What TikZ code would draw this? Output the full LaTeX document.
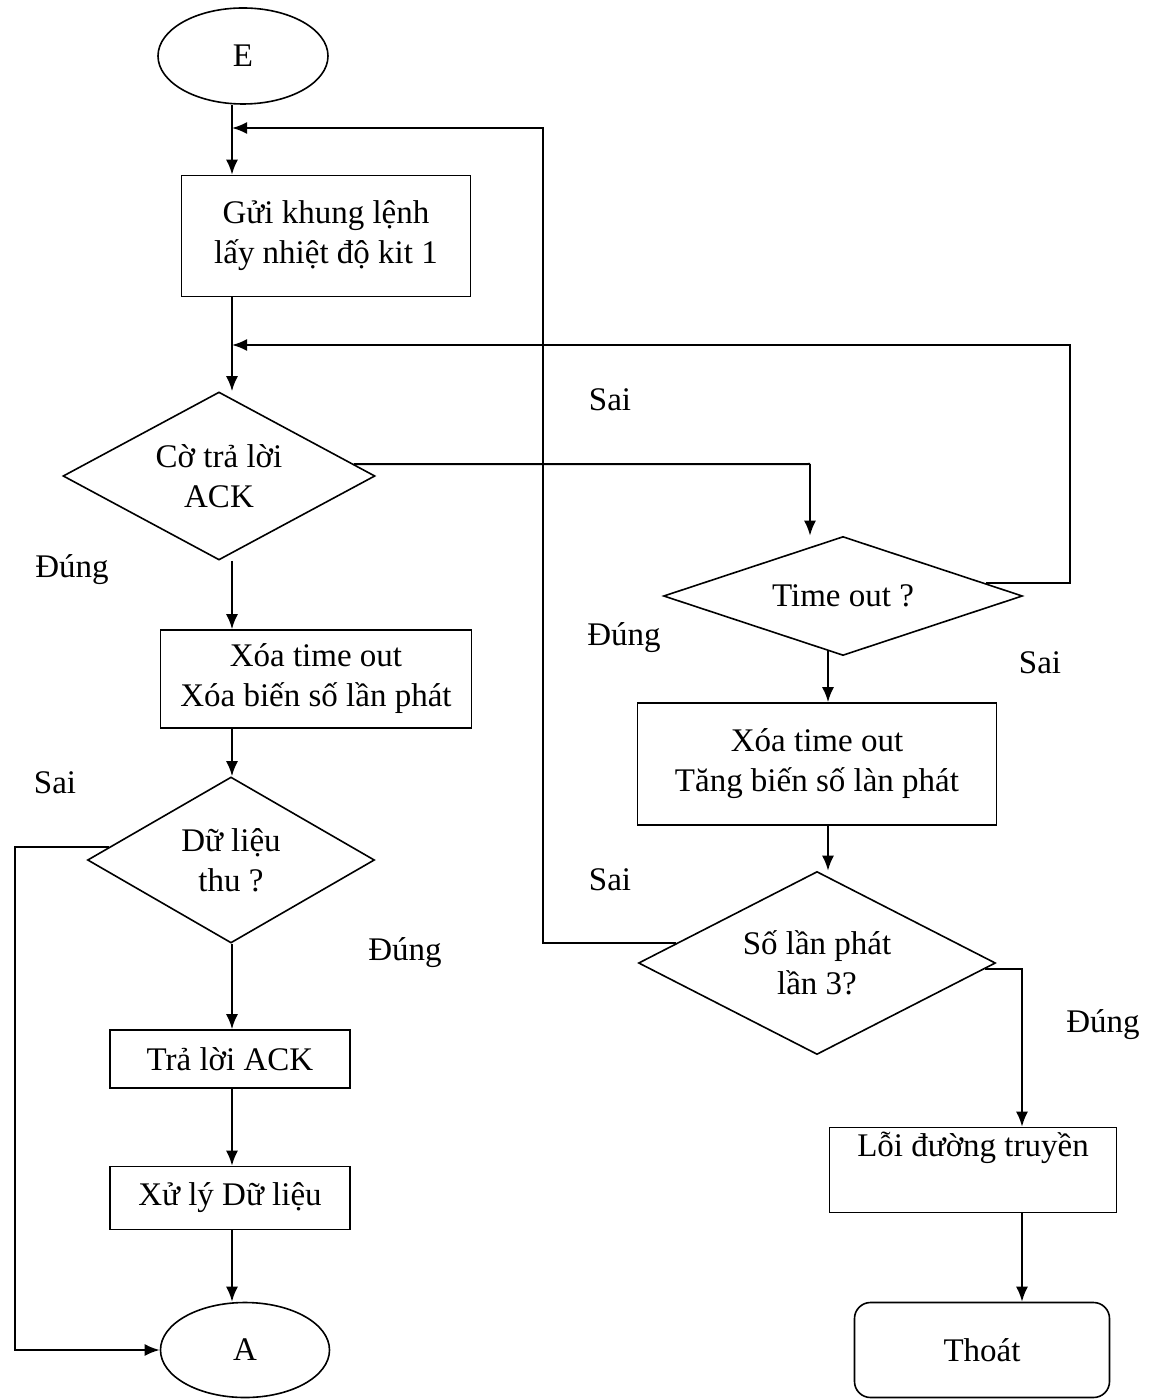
\documentclass[tikz,border=0pt]{standalone}
\usepackage{fontspec}
\setmainfont{Liberation Serif}
\usepackage{tikz}
\usetikzlibrary{shapes.geometric,arrows.meta}
\tikzset{box/.style={draw, rectangle, align=center, inner sep=0pt, line width=0.8pt}}
\tikzset{dec/.style={draw, diamond, aspect=2, align=center, inner sep=0pt, line width=0.8pt}}
\tikzset{term/.style={draw, ellipse, inner sep=0pt, line width=0.8pt}}
\tikzset{lbl/.style={inner sep=0pt}}

\begin{document}
\begin{tikzpicture}[x=0.5pt,y=-0.5pt,line width=1pt,>={Latex[length=7.5pt,width=6pt]},
	every node/.style={font=\fontsize{16.5}{20}\selectfont}]

	\useasboundingbox (0,0) rectangle (1161,1400);
%	\draw[style=help lines, step=50] (0,0) grid (1161,1400);

	% cot trai
	\node[term, minimum width=85pt, minimum height=48pt] (E) at (243,56) {E};
	\node[box, minimum width=144.5pt, minimum height=60.5pt] (gui) at (326,236) {Gửi khung lệnh\\lấy nhiệt độ kit 1};
	\node[dec, minimum width=156pt, minimum height=84pt] (ack) at (219,476) {Cờ trả lời\\ACK};
	\node[box, minimum width=155.5pt, minimum height=49pt] (xoa1) at (316,679) {Xóa time out\\Xóa biến số lần phát};
	\node[dec, minimum width=143.5pt, minimum height=83pt] (du) at (231,860) {Dữ liệu\\thu ?};
	\node[box, minimum width=120pt, minimum height=29pt] (tra) at (230,1059) {Trả lời ACK};
	\node[box, minimum width=120pt, minimum height=31.5pt] (xuly) at (230,1198) {Xử lý Dữ liệu};
	\node[term, minimum width=84.5pt, minimum height=47.5pt] (A) at (245,1350) {A};

	% cot phai
	\node[dec, aspect=3, minimum width=179.5pt, minimum height=59.5pt] (to) at (843,596) {Time out ?};
	\node[box, minimum width=179.5pt, minimum height=61pt] (xoa2) at (817,764) {Xóa time out\\Tăng biến số làn phát};
	\node[dec, minimum width=178.5pt, minimum height=91.5pt] (so) at (817,963) {Số lần phát\\lần 3?};
	\node[box, minimum width=143.5pt, minimum height=42.5pt, text height=12pt, text depth=26pt] (loi) at (973,1170) {Lỗi đường truyền};
	\node[box, rounded corners=8pt, minimum width=127.5pt, minimum height=47.5pt] (thoat) at (982,1350) {Thoát};

	% nhan
	\node[lbl] (s1) at (610,400) {Sai};
	\node[lbl] (d1) at (72,570) {Đúng};
	\node[lbl] (d2) at (624,638) {Đúng};
	\node[lbl] (s2) at (1040,663) {Sai};
	\node[lbl] (s3) at (55,783) {Sai};
	\node[lbl] (d3) at (405,953) {Đúng};
	\node[lbl] (s4) at (610,880) {Sai};
	\node[lbl] (d4) at (1103,1025) {Đúng};

	\coordinate (j1) at (232,128);
	\coordinate (j2) at (232,345);
	\coordinate (ret) at (543,128);
	\coordinate (lp) at (1070,345);
	\coordinate (tin) at (810,464);
	\coordinate (lft) at (15,1350);
	\coordinate (rr) at (1022,1250);
	\coordinate (t1) at ([xshift=-7.5pt,yshift=2.5pt]to.south);

	\draw[->] (E.south -| j1) -- (gui.north -| j1);
	\draw[->] (so.172) -| (ret) -- (j1);
	\draw[->] (gui.south -| j2) -- (ack.north -| j2);
	\draw[->] (to.5) -| (lp) -- (j2);
	\draw (ack.5) -- (tin);
	\draw[->] (tin) -- (tin |- to.north);
	\draw[->] (ack.south -| j2) -- (xoa1.north -| j2);
	\draw[->] (xoa1.south -| j2) -- (du.north -| j2);
	\draw[->] (du.174) -| (lft) -- (A);
	\draw[->] (du.south -| j2) -- (tra.north -| j2);
	\draw[->] (tra.south -| j2) -- (xuly.north -| j2);
	\draw[->] (xuly.south -| j2) -- (A.north -| j2);
	\draw[->] (t1) -- (t1 |- xoa2.north);
	\draw[->] (t1 |- xoa2.south) -- (t1 |- so.north);
	\draw[->] (so.-2) -| (rr |- loi.north);
	\draw[->] (rr |- loi.south) -- (rr |- thoat.north);

\end{tikzpicture}
\end{document}
